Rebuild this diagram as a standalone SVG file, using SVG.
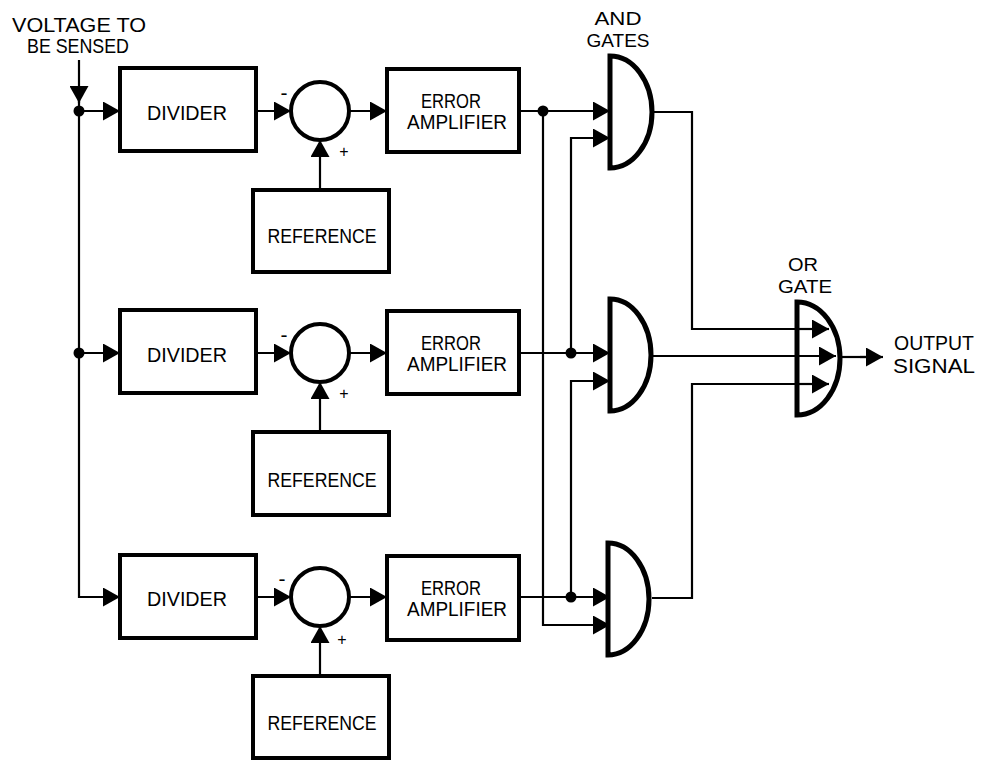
<svg xmlns="http://www.w3.org/2000/svg" width="984" height="760" viewBox="0 0 984 760">
<defs>
<style>
.box{fill:#fff;stroke:#000;stroke-width:4}
.sum{fill:#fff;stroke:#000;stroke-width:4}
.gate{fill:#fff;stroke:#000;stroke-width:5;stroke-linejoin:miter}
.w{fill:none;stroke:#000;stroke-width:2.2}
.wa{fill:none;stroke:#000;stroke-width:2.2;marker-end:url(#ah)}
.dot{fill:#000}
text{font-family:"Liberation Sans",Arial,sans-serif;font-size:21px;fill:#000}
.c{text-anchor:middle}
.sm{font-size:16px}
.lbl{font-size:19px}
</style>
<marker id="ah" markerUnits="userSpaceOnUse" markerWidth="17" markerHeight="19" refX="17" refY="9.5" orient="auto">
<path d="M0,0 L17,9.5 L0,19 Z" fill="#000"/>
</marker>
</defs>
<rect width="984" height="760" fill="#fff"/>

<g id="labels">
<text class="c" x="79" y="32" textLength="134" lengthAdjust="spacingAndGlyphs">VOLTAGE TO</text>
<text class="c" x="78" y="53" textLength="102" lengthAdjust="spacingAndGlyphs">BE SENSED</text>
<text class="c lbl" x="618" y="25" textLength="47" lengthAdjust="spacingAndGlyphs">AND</text>
<text class="c lbl" x="618" y="47" textLength="63" lengthAdjust="spacingAndGlyphs">GATES</text>
<text class="c lbl" x="803" y="271" textLength="30" lengthAdjust="spacingAndGlyphs">OR</text>
<text class="c lbl" x="805" y="293" textLength="54" lengthAdjust="spacingAndGlyphs">GATE</text>
<text x="894" y="350" textLength="80" lengthAdjust="spacingAndGlyphs">OUTPUT</text>
<text x="893" y="373" textLength="82" lengthAdjust="spacingAndGlyphs">SIGNAL</text>
</g>

<g id="connectors">
<line class="wa" x1="79" y1="60" x2="79" y2="103"/>
<polyline class="wa" points="79,100 79,597 120,597"/>
<line class="wa" x1="79" y1="111" x2="120" y2="111"/>
<line class="wa" x1="79" y1="353" x2="120" y2="353"/>
<circle class="dot" cx="79" cy="111" r="5.5"/>
<circle class="dot" cx="79" cy="353" r="5.5"/>

<line class="wa" x1="256" y1="111" x2="291" y2="111"/>
<line class="wa" x1="256" y1="353" x2="291" y2="353"/>
<line class="wa" x1="256" y1="597" x2="291" y2="597"/>
<line class="wa" x1="349" y1="111" x2="387" y2="111"/>
<line class="wa" x1="349" y1="353" x2="387" y2="353"/>
<line class="wa" x1="349" y1="597" x2="387" y2="597"/>
<line class="wa" x1="320" y1="190" x2="320" y2="140"/>
<line class="wa" x1="320" y1="432" x2="320" y2="382"/>
<line class="wa" x1="320" y1="676" x2="320" y2="626"/>

<line class="wa" x1="519" y1="111" x2="610" y2="111"/>
<line class="wa" x1="519" y1="353" x2="610" y2="353"/>
<line class="wa" x1="519" y1="597" x2="610" y2="597"/>
<polyline class="wa" points="543,111 543,625 610,625"/>
<polyline class="wa" points="571,353 571,138 610,138"/>
<polyline class="wa" points="571,597 571,381 610,381"/>
<circle class="dot" cx="543" cy="111" r="5.5"/>
<circle class="dot" cx="571" cy="353" r="5.5"/>
<circle class="dot" cx="571" cy="597" r="5.5"/>

<polyline class="w" points="652,112 692,112 692,329 797,329"/>
<polyline class="w" points="652,598 692,598 692,384 797,384"/>
<line class="w" x1="652" y1="356" x2="797" y2="356"/>
<line class="w" x1="840" y1="357" x2="866" y2="357"/>
<line class="wa" x1="860" y1="357" x2="883" y2="357"/>
</g>

<g id="row1">
<g id="divider1"><rect class="box" x="120" y="68" width="136" height="83"/><text class="c" x="187" y="120" textLength="80" lengthAdjust="spacingAndGlyphs">DIVIDER</text></g>
<g id="sum1"><circle class="sum" cx="320" cy="111" r="29"/><text class="c" x="284" y="100">-</text><text class="c sm" x="344" y="157">+</text></g>
<g id="ref1"><rect class="box" x="253" y="190" width="136" height="82"/><text class="c" x="322" y="243" textLength="109" lengthAdjust="spacingAndGlyphs">REFERENCE</text></g>
<g id="amp1"><rect class="box" x="387" y="69" width="132" height="83"/><text class="c" x="451" y="108" textLength="60" lengthAdjust="spacingAndGlyphs">ERROR</text><text class="c" x="457" y="129" textLength="100" lengthAdjust="spacingAndGlyphs">AMPLIFIER</text></g>
</g>

<g id="row2">
<g id="divider2"><rect class="box" x="120" y="310" width="136" height="83"/><text class="c" x="187" y="362" textLength="80" lengthAdjust="spacingAndGlyphs">DIVIDER</text></g>
<g id="sum2"><circle class="sum" cx="320" cy="353" r="29"/><text class="c" x="284" y="342">-</text><text class="c sm" x="344" y="399">+</text></g>
<g id="ref2"><rect class="box" x="253" y="432" width="136" height="83"/><text class="c" x="322" y="487" textLength="109" lengthAdjust="spacingAndGlyphs">REFERENCE</text></g>
<g id="amp2"><rect class="box" x="387" y="311" width="132" height="83"/><text class="c" x="451" y="350" textLength="60" lengthAdjust="spacingAndGlyphs">ERROR</text><text class="c" x="457" y="371" textLength="100" lengthAdjust="spacingAndGlyphs">AMPLIFIER</text></g>
</g>

<g id="row3">
<g id="divider3"><rect class="box" x="120" y="555" width="136" height="83"/><text class="c" x="187" y="606" textLength="80" lengthAdjust="spacingAndGlyphs">DIVIDER</text></g>
<g id="sum3"><circle class="sum" cx="320" cy="597" r="29"/><text class="c" x="282" y="586">-</text><text class="c sm" x="342" y="645">+</text></g>
<g id="ref3"><rect class="box" x="253" y="676" width="136" height="82"/><text class="c" x="322" y="730" textLength="109" lengthAdjust="spacingAndGlyphs">REFERENCE</text></g>
<g id="amp3"><rect class="box" x="387" y="556" width="132" height="84"/><text class="c" x="451" y="595" textLength="60" lengthAdjust="spacingAndGlyphs">ERROR</text><text class="c" x="457" y="616" textLength="100" lengthAdjust="spacingAndGlyphs">AMPLIFIER</text></g>
</g>

<g id="and1"><path class="gate" d="M610,56 A42,56 0 0 1 610,168 Z"/></g>
<g id="and2"><path class="gate" d="M610,299 A41,56 0 0 1 610,411 Z"/></g>
<g id="and3"><path class="gate" d="M608,543 A41,56 0 0 1 608,655 Z"/></g>

<g id="or"><path class="gate" d="M797,302 A43,56.5 0 0 1 797,415 Z"/>
<line class="wa" x1="797" y1="329" x2="829" y2="329"/>
<line class="wa" x1="797" y1="356" x2="836" y2="356"/>
<line class="wa" x1="797" y1="384" x2="829" y2="384"/>
</g>
</svg>
